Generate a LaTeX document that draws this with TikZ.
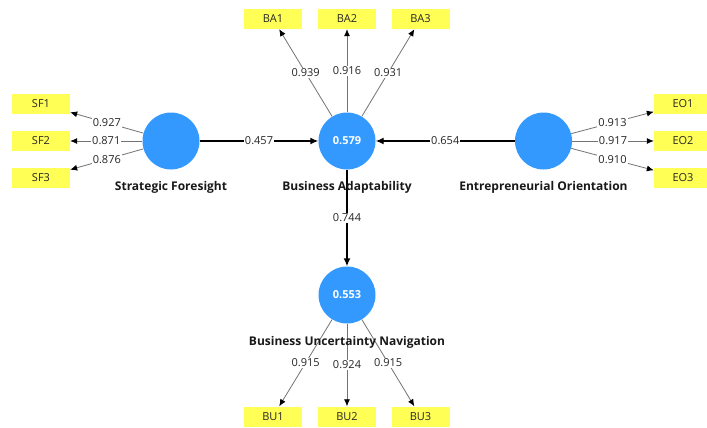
\documentclass[tikz,border=0pt]{standalone}
\usepackage{fontspec}
\setmainfont{Open Sans}
\usetikzlibrary{arrows.meta}
\definecolor{lvblue}{RGB}{51,153,255}
\definecolor{indyellow}{RGB}{255,255,85}
\begin{document}
\begin{tikzpicture}[x=1pt,y=-1pt,
  lv/.style={circle,fill=lvblue,minimum size=57pt,inner sep=0pt,text=white,font=\bfseries\fontsize{11}{13}\selectfont},
  ind/.style={fill=indyellow,minimum width=58pt,minimum height=20pt,inner sep=0pt,text=black!85,font=\fontsize{11}{13}\selectfont},
  lvname/.style={font=\bfseries\fontsize{12}{14}\selectfont,text=black!90},
  meas/.style={draw=black!55,line width=0.8pt,-{Latex[length=7pt,width=6pt,color=black]}},
  struct/.style={draw=black,line width=1.4pt,-{Latex[length=8pt,width=7pt]}},
  wt/.style={fill=white,inner sep=1pt,text=black!85,font=\fontsize{11}{13}\selectfont}
]
\useasboundingbox[fill=white] (0,0) rectangle (707,428);
% latent variables
\node[lv] (sf) at (171,141) {};
\node[lv] (ba) at (347,141) {0.579};
\node[lv] (eo) at (543.5,141) {};
\node[lv] (bu) at (347,295) {0.553};
% indicators
\node[ind] (sf1) at (41,104) {SF1};
\node[ind] (sf2) at (41,141) {SF2};
\node[ind] (sf3) at (41,178) {SF3};
\node[ind] (ba1) at (273,19) {BA1};
\node[ind] (ba2) at (347,19) {BA2};
\node[ind] (ba3) at (420.5,19) {BA3};
\node[ind] (eo1) at (683,104) {EO1};
\node[ind] (eo2) at (683,141) {EO2};
\node[ind] (eo3) at (683,178) {EO3};
\node[ind] (bu1) at (273,416.5) {BU1};
\node[ind] (bu2) at (347,416.5) {BU2};
\node[ind] (bu3) at (420.5,416.5) {BU3};
% measurement arrows
\draw[meas] (sf) -- node[wt] {0.927} (sf1);
\draw[meas] (sf) -- node[wt] {0.871} (sf2);
\draw[meas] (sf) -- node[wt] {0.876} (sf3);
\draw[meas] (ba) -- node[wt] {0.939} (ba1);
\draw[meas] (ba) -- node[wt] {0.916} (ba2);
\draw[meas] (ba) -- node[wt] {0.931} (ba3);
\draw[meas] (eo) -- node[wt] {0.913} (eo1);
\draw[meas] (eo) -- node[wt] {0.917} (eo2);
\draw[meas] (eo) -- node[wt] {0.910} (eo3);
\draw[meas] (bu) -- node[wt] {0.915} (bu1);
\draw[meas] (bu) -- node[wt] {0.924} (bu2);
\draw[meas] (bu) -- node[wt] {0.915} (bu3);
% structural paths
\draw[struct] (sf) -- node[wt] {0.457} (ba);
\draw[struct] (eo) -- node[wt] {0.654} (ba);
\draw[struct] (ba) -- node[wt] {0.744} (bu);
% names
\node[lvname] (sfn) at (171,187) {Strategic Foresight};
\node[lvname] (ban) at (347,187) {Business Adaptability};
\node[lvname] (eon) at (543.5,187) {Entrepreneurial Orientation};
\node[lvname] (bun) at (347,342) {Business Uncertainty Navigation};
\end{tikzpicture}
\end{document}
